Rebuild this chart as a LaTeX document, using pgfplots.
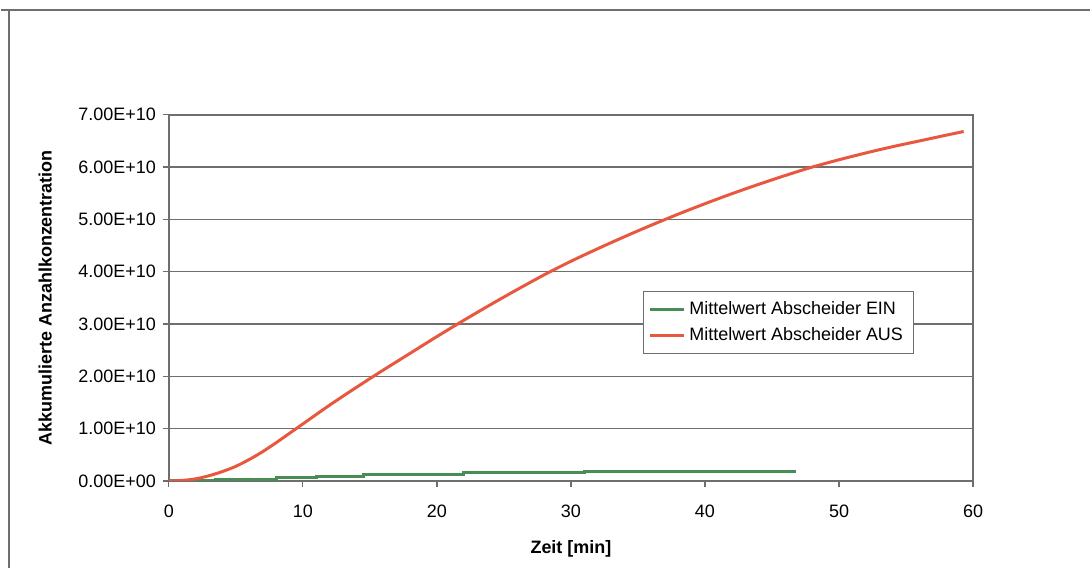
\documentclass[border=0pt]{standalone}
\usepackage{pgfplots}
\pgfplotsset{compat=1.18}
\usepackage{fontspec}
\setmainfont{Liberation Sans}
\definecolor{redline}{RGB}{232,88,62}
\definecolor{greenline}{RGB}{72,142,84}
\definecolor{axgray}{RGB}{110,110,110}
\begin{document}
\begin{tikzpicture}
\path (0pt,0pt) rectangle (545.5pt,284.5pt);
\draw[axgray,line width=1.2pt] (0pt,279.5pt) -- (545.5pt,279.5pt);
\draw[axgray,line width=1pt] (4pt,0pt) -- (4pt,279.5pt);
\begin{axis}[
  at={(84pt,43.5pt)}, anchor=south west,
  scale only axis, width=403pt, height=183.5pt,
  xmin=0, xmax=60, ymin=0, ymax=7e10,
  xtick={0,10,...,60},
  ytick={0,1e10,2e10,3e10,4e10,5e10,6e10,7e10},
  yticklabels={0.00E+00,1.00E+10,2.00E+10,3.00E+10,4.00E+10,5.00E+10,6.00E+10,7.00E+10},
  scaled y ticks=false,
  /pgf/number format/assume math mode=true,
  ticklabel style={font=\fontsize{9}{10}\selectfont},
  xticklabel style={yshift=-5.5pt},
  tick pos=left, tick align=outside, major tick length=3pt,
  tick style={axgray, line width=0.6pt},
  axis line style={axgray, line width=0.9pt},
  ymajorgrids, grid style={axgray, line width=0.7pt},
  xlabel={\bfseries Zeit [min]}, ylabel={\bfseries Akkumulierte Anzahlkonzentration},
  label style={font=\fontsize{9}{10}\selectfont},
  xlabel style={yshift=-4.5pt},
  ylabel style={yshift=6.5pt},
  legend style={at={(0.589,0.518)}, anchor=north west, draw=axgray, font=\fontsize{9}{11}\selectfont, row sep=1pt, inner sep=3pt},
  legend cell align=left,
  legend image post style={line width=1.2pt},
]
\addplot[greenline, line width=1.5pt, const plot] coordinates {
(0,0) (3.5,0.02e10) (8,0.06e10) (11,0.09e10) (14.5,0.13e10) (22,0.16e10) (31,0.19e10) (46.7,0.2e10)
};
\addlegendentry{Mittelwert Abscheider EIN}
\addplot[redline, line width=1.5pt, smooth] coordinates {
(0,0) (1,0.01e10) (2,0.04e10) (3,0.1e10) (4,0.18e10) (5,0.28e10) (6,0.41e10) (7,0.56e10) (8,0.73e10) (9,0.91e10) (10,1.09e10) (12,1.45e10) (14,1.79e10) (16,2.12e10) (18,2.44e10) (20,2.76e10) (22,3.07e10) (24,3.37e10) (26,3.66e10) (28,3.94e10) (30,4.2e10) (32,4.44e10) (34,4.67e10) (36,4.89e10) (38,5.1e10) (40,5.3e10) (42,5.49e10) (44,5.67e10) (46,5.84e10) (48,6.0e10) (50,6.14e10) (52,6.27e10) (54,6.39e10) (56,6.5e10) (58,6.61e10) (59.3,6.68e10)
};
\addlegendentry{Mittelwert Abscheider AUS}
\end{axis}
\end{tikzpicture}
\end{document}
